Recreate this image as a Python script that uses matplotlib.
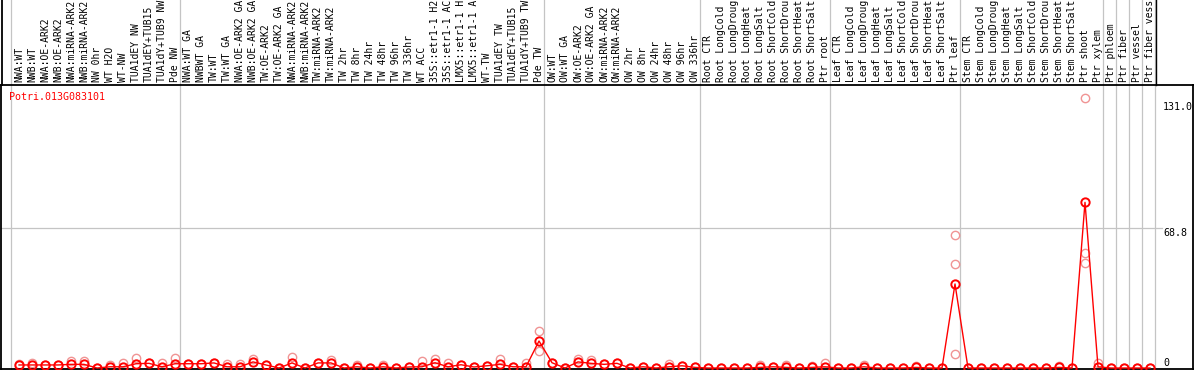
import numpy as np
import matplotlib
matplotlib.use("Agg")
import matplotlib.pyplot as plt
from matplotlib.lines import Line2D

gene = "Potri.013G083101"

labels = [
    "NWA:WT", "NWB:WT", "NWA:OE-ARK2", "NWB:OE-ARK2", "NWA:miRNA-ARK2", "NWB:miRNA-ARK2",
    "NW 0hr", "WT H2O", "WT-NW", "TUA1dEY NW", "TUA1dEY+TUB15", "TUA1dY+TUB9 NW", "Pde NW",
    "NWA:WT GA", "NWBWT GA", "TW:WT", "TW:WT GA", "NWA:OE-ARK2 GA", "NWB:OE-ARK2 GA",
    "TW:OE-ARK2", "TW:OE-ARK2 GA", "NWA:miRNA-ARK2", "NWB:miRNA-ARK2", "TW:miRNA-ARK2",
    "TW:miRNA-ARK2", "TW 2hr", "TW 8hr", "TW 24hr", "TW 48hr", "TW 96hr", "TW 336hr",
    "WT ACC", "35S::etr1-1 H2", "35S::etr1-1 AC", "LMX5::etr1-1 H", "LMX5::etr1-1 A",
    "WT-TW", "TUA1dEY TW", "TUA1dEY+TUB15", "TUA1dY+TUB9 TW", "Pde TW",
    "OW:WT", "OW:WT GA", "OW:OE-ARK2", "OW:OE-ARK2 GA", "OW:miRNA-ARK2", "OW:miRNA-ARK2",
    "OW 2hr", "OW 8hr", "OW 24hr", "OW 48hr", "OW 96hr", "OW 336hr",
    "Root CTR", "Root LongCold", "Root LongDroug", "Root LongHeat", "Root LongSalt",
    "Root ShortCold", "Root ShortDrou", "Root ShortHeat", "Root ShortSalt", "Ptr root",
    "Leaf CTR", "Leaf LongCold", "Leaf LongDroug", "Leaf LongHeat", "Leaf LongSalt",
    "Leaf ShortCold", "Leaf ShortDrou", "Leaf ShortHeat", "Leaf ShortSalt", "Ptr leaf",
    "Stem CTR", "Stem LongCold", "Stem LongDroug", "Stem LongHeat", "Stem LongSalt",
    "Stem ShortCold", "Stem ShortDrou", "Stem ShortHeat", "Stem ShortSalt", "Ptr shoot",
    "Ptr xylem", "Ptr phloem", "Ptr fiber", "Ptr vessel", "Ptr fiber vess",
]

means = [
    1.5, 1.5, 1.5, 1.5, 1.8, 1.8, 0.0, 0.6, 0.6, 2.1, 2.3, 0.6, 2.1,
    2.1, 2.1, 2.5, 0.6, 0.6, 3.0, 1.5, 0.0, 2.5, 0.0, 2.5, 2.5, 0.0, 0.6, 0.0, 0.6,
    0.0, 0.5, 0.6, 2.6, 0.6, 1.6, 0.5, 1.1, 1.8, 0.6, 0.6, 13.3,
    2.6, 0.0, 3.0, 2.3, 1.8, 2.3, 0.0, 0.6, 0.0, 0.6, 1.1, 0.3,
    0.0, 0.0, 0.0, 0.0, 0.3, 0.6, 0.3, 0.0, 0.3, 0.6,
    0.0, 0.0, 0.6, 0.0, 0.0, 0.0, 0.3, 0.0, 0.0, 41.4,
    0.0, 0.0, 0.0, 0.0, 0.0, 0.0, 0.0, 0.3, 0.0, 81.6,
    0.6, 0.0, 0.0, 0.0, 0.0,
]

rep_hi = [
    1.8, 2.3, 1.5, 1.5, 3.4, 3.4, 0.0, 1.5, 2.3, 4.8, 2.3, 2.3, 4.8,
    2.1, 2.1, 2.5, 2.0, 2.0, 4.3, 1.5, 0.0, 5.6, 0.0, 2.5, 3.9, 0.0, 1.5, 0.0, 1.5,
    0.0, 0.5, 3.4, 4.4, 2.3, 1.6, 0.5, 1.1, 4.3, 0.6, 2.3, 18.2,
    2.6, 0.0, 4.3, 3.9, 1.8, 2.3, 0.0, 0.6, 0.0, 2.0, 1.1, 0.3,
    0.0, 0.0, 0.0, 0.0, 1.5, 0.6, 1.5, 0.0, 1.0, 2.6,
    0.0, 0.0, 1.5, 0.0, 0.0, 0.0, 1.0, 0.0, 0.0, 65.5,
    0.0, 0.0, 0.0, 0.0, 0.0, 0.0, 0.0, 1.0, 0.0, 132.9,
    2.3, 0.0, 0.0, 0.0, 0.0,
]

rep2_idx = [40, 72, 82]
rep2_val = [8.4, 51.1, 56.7]
rep3_idx = [72, 82]
rep3_val = [6.7, 51.7]

sep_after = [-1, 12, 40, 52, 62, 72, 83, 84, 85, 86, 87]
ytick_vals = [131.0, 68.8, 0]
ytick_txt = ["131.0", "68.8", "0"]

W, H = 1194, 370
fig = plt.figure(figsize=(W / 100, H / 100), dpi=100)
ax_l, ax_r, ax_t, ax_b = 1, 1193, 85, 369
ax = fig.add_axes([ax_l / W, 1 - ax_b / H, (ax_r - ax_l) / W, (ax_b - ax_t) / H])

x = np.arange(len(labels))
x0 = -18 / 13
x1 = (ax_r - 19) / 13
ax.set_xlim(x0, x1)
ax.set_ylim(-0.49, 139.4)

mono = "DejaVu Sans Mono"
grey = "#c4c4c4"
pale = "#f09494"

axes_h = ax_b - ax_t
for s in sep_after:
    ax.axvline(s + 0.4, ymin=0, ymax=1 + 90 / axes_h, color=grey, lw=0.9,
               clip_on=False, zorder=1)

ax.plot([x0, (1162 - 19) / 13], [ytick_vals[1], ytick_vals[1]], color=grey, lw=0.9, zorder=1)

ax.plot(x, rep_hi, linestyle="none", marker="o", ms=6, mfc="none", mec=pale, mew=1.0, zorder=2)
ax.plot(rep2_idx, rep2_val, linestyle="none", marker="o", ms=6, mfc="none", mec=pale, mew=1.0, zorder=2)
ax.plot(rep3_idx, rep3_val, linestyle="none", marker="o", ms=6, mfc="none", mec=pale, mew=1.0, zorder=2)

ax.plot(x, means, color="red", lw=1.0, zorder=3)
ax.plot(x, means, linestyle="none", marker="o", ms=6, mfc="none", mec="red", mew=1.4, zorder=4)

ax.set_xticks(x)
ax.set_xticklabels(labels, rotation=90, fontsize=7.0, family=mono)
ax.xaxis.set_ticks_position("top")
ax.tick_params(axis="x", length=0, pad=2.0)
ax.set_yticks([])

for sp in ax.spines.values():
    sp.set_color("black")
    sp.set_linewidth(1.3)

xl = (1163 - 19) / 13
ax.text(xl, ytick_vals[0], ytick_txt[0], ha="left", va="top", fontsize=7.2, family=mono, clip_on=True)
ax.text(xl, ytick_vals[1], ytick_txt[1], ha="left", va="top", fontsize=7.2, family=mono, clip_on=True)
ax.text(xl, ytick_vals[2], ytick_txt[2], ha="left", va="bottom", fontsize=7.2, family=mono, clip_on=True)

ax.text((9 - ax_l) / (ax_r - ax_l), (ax_b - 97) / axes_h, gene, transform=ax.transAxes,
        ha="left", va="center", color="red", fontsize=7.2, family=mono)

fig.add_artist(Line2D([1.5 / W, 1.5 / W], [1 - ax_t / H, 1], color="black", lw=1.3))
fig.add_artist(Line2D([1155.5 / W, 1155.5 / W], [1 - ax_t / H, 1], color="black", lw=1.0))
fig.add_artist(Line2D([ax_r / W, 1], [1 - ax_t / H, 1 - ax_t / H], color="black", lw=1.3))

fig.savefig("out.png", dpi=100)
